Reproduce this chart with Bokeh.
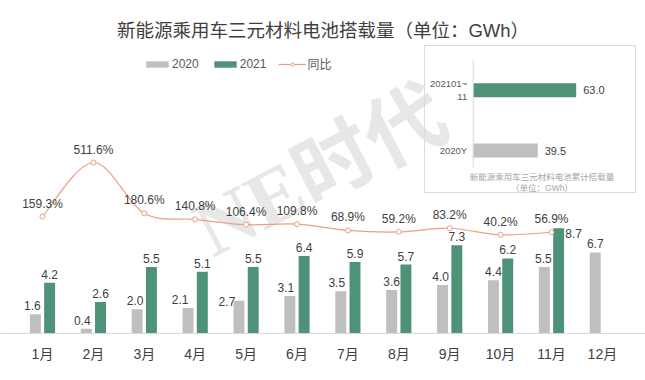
from bokeh.plotting import figure
from bokeh.models import (Range1d, ColumnDataSource, Legend, LegendItem,
                          Title, FixedTicker)
from bokeh.embed import file_html
from bokeh.resources import INLINE
from bokeh.core.properties import value

# ---------------- data ----------------
months = ["1月", "2月", "3月", "4月", "5月", "6月", "7月", "8月", "9月", "10月", "11月", "12月"]
sales_2020 = [1.6, 0.4, 2.0, 2.1, 2.7, 3.1, 3.5, 3.6, 4.0, 4.4, 5.5, 6.7]
sales_2021 = [4.2, 2.6, 5.5, 5.1, 5.5, 6.4, 5.9, 5.7, 7.3, 6.2, 8.7]
yoy_pct = [159.3, 511.6, 180.6, 140.8, 106.4, 109.8, 68.9, 59.2, 83.2, 40.2, 56.9]
inset_labels = ["2020Y", "202101~\n11"]
inset_values = [39.5, 63.0]

# ---------------- style ----------------
FONT = "Liberation Sans, Noto Sans CJK SC"
GRAY = "#BFBFBF"
GREEN = "#4E9277"
LINE = "#E9A083"
TXT = "#404040"
LIGHT = "#D9D9D9"
BAR_OFF = 0.14
BAR_W = 0.215

# label nudges (screen px) to mimic the reference label placement
nudge_2020_dx = [-3, -4, -2, -8, -12, -4, -4, 0, -2, 0, -1, 0]
nudge_2020_dy = [0, 0, 0, 0, 9, 0, 0, 0, 0, 0, 0, 0]
nudge_2021_dx = [0, 0, 0, 0, 0, 0, 0, 0, 0, 0, 15]
nudge_2021_dy = [0, 0, 0, 0, 0, 0, 0, 0, 0, 0, 14]

W, H = 645, 380
p = figure(width=W, height=H,
           x_range=Range1d(-0.325, 12.347),
           y_range=Range1d(0, 24.13),
           y_axis_location=None,
           output_backend="svg", toolbar_location=None,
           min_border_left=0, min_border_right=0,
           min_border_top=41, min_border_bottom=47)
p.extra_y_ranges = {"pct": Range1d(-603, 1300.5), "iy": Range1d(-3.035, 1.808)}
p.extra_x_ranges = {"ix": Range1d(-289.1, 105.4)}
p.outline_line_color = None
p.grid.visible = False
p.background_fill_color = "white"
p.border_fill_color = "white"

p.title = Title(text="新能源乘用车三元材料电池搭载量（单位：GWh）", align="center",
                text_font_size="18.5px", text_font=FONT, text_color=TXT,
                text_font_style="normal", standoff=2)

# watermark
p.text(x=[5.96], y=[13.4], text=["NE时代"], angle=0.48,
       text_font=value("Liberation Serif, Noto Sans CJK SC"), text_font_style="bold",
       text_font_size="80px", text_color="#E7E7E7", text_align="center",
       text_baseline="middle", level="underlay")

# ---------------- bars ----------------
centers = [i + 0.5 for i in range(len(months))]
src20 = ColumnDataSource(dict(x=[c - BAR_OFF for c in centers], value=sales_2020,
                              label=[f"{v:.1f}" for v in sales_2020],
                              dx=nudge_2020_dx, dy=[d - 4 for d in nudge_2020_dy]))
src21 = ColumnDataSource(dict(x=[c + BAR_OFF for c in centers[:len(sales_2021)]],
                              value=sales_2021,
                              label=[f"{v:.1f}" for v in sales_2021],
                              dx=nudge_2021_dx, dy=[d - 4 for d in nudge_2021_dy]))

r20 = p.vbar(x="x", top="value", width=BAR_W, source=src20,
             fill_color=GRAY, line_color=None)
r21 = p.vbar(x="x", top="value", width=BAR_W, source=src21,
             fill_color=GREEN, line_color=None)

for src in (src20, src21):
    p.text(x="x", y="value", text="label", source=src,
           x_offset="dx", y_offset="dy", text_align="center", text_baseline="bottom",
           text_font=value(FONT), text_font_size="12px", text_color=TXT)

# ---------------- YoY smoothed line ----------------
n = len(yoy_pct)
px = centers[:n]
py = yoy_pct
def pt(i):
    i = max(0, min(n - 1, i))
    return px[i], py[i]
bz = dict(x0=[], y0=[], x1=[], y1=[], cx0=[], cy0=[], cx1=[], cy1=[])
for i in range(n - 1):
    xa, ya = pt(i - 1); xb, yb = pt(i); xc, yc = pt(i + 1); xd, yd = pt(i + 2)
    bz["x0"].append(xb); bz["y0"].append(yb)
    bz["x1"].append(xc); bz["y1"].append(yc)
    bz["cx0"].append(xb + (xc - xa) / 6); bz["cy0"].append(yb + (yc - ya) / 6)
    bz["cx1"].append(xc - (xd - xb) / 6); bz["cy1"].append(yc - (yd - yb) / 6)
rline = p.bezier(source=ColumnDataSource(bz), x0="x0", y0="y0", x1="x1", y1="y1",
                 cx0="cx0", cy0="cy0", cx1="cx1", cy1="cy1",
                 line_color=LINE, line_width=1.2, y_range_name="pct")
srcy = ColumnDataSource(dict(x=px, y=py, label=[f"{v:.1f}%" for v in py]))
rpts = p.scatter(x="x", y="y", source=srcy, marker="circle", size=5,
                 fill_color="white", line_color=LINE, line_width=1, y_range_name="pct")
p.text(x="x", y="y", text="label", source=srcy, y_offset=-6, text_align="center",
       text_baseline="bottom", text_font=value(FONT), text_font_size="12px",
       text_color=TXT, y_range_name="pct")

# ---------------- x axis ----------------
ax = p.xaxis[0]
ax.ticker = FixedTicker(ticks=centers)
ax.major_label_overrides = {c: m for c, m in zip(centers, months)}
ax.axis_line_color = LIGHT
ax.axis_line_width = 1
ax.major_tick_line_color = None
ax.minor_tick_line_color = None
ax.major_label_text_font = FONT
ax.major_label_text_font_size = "14px"
ax.major_label_text_color = TXT
ax.major_label_standoff = 6

# ---------------- legend ----------------
legend = Legend(items=[LegendItem(label="2020", renderers=[r20]),
                       LegendItem(label="2021", renderers=[r21]),
                       LegendItem(label="同比", renderers=[rline, rpts])],
                orientation="horizontal", location=(143, 261),
                glyph_width=28, glyph_height=8, label_height=8,
                label_standoff=1, spacing=12, padding=0, margin=0,
                label_text_font=FONT, label_text_font_size="12px",
                label_text_color="#595959", border_line_color=None,
                background_fill_alpha=0)
p.add_layout(legend)

# ---------------- inset: cumulative ----------------
p.quad(left=[-29.8], right=[99.3], bottom=[-0.697], top=[1.741], fill_alpha=0,
       line_color=LIGHT, line_width=1, x_range_name="ix", y_range_name="iy")
idx = list(range(len(inset_values)))
p.hbar(y=idx, left=0, right=inset_values, height=0.232, fill_color=[GRAY, GREEN],
       line_color=None, x_range_name="ix", y_range_name="iy")
p.segment(x0=[0], y0=[-0.28], x1=[0], y1=[len(idx) - 0.5], line_color=LIGHT,
          line_width=1, x_range_name="ix", y_range_name="iy")
p.text(x=inset_values, y=idx, text=[f"{v:.1f}" for v in inset_values], x_offset=7,
       text_align="left", text_baseline="middle", text_font=value(FONT),
       text_font_size="11px", text_color=TXT, x_range_name="ix", y_range_name="iy")
p.text(x=[0] * len(idx), y=idx, text=inset_labels, x_offset=-6, text_align="right",
       text_baseline="middle", text_font=value(FONT), text_font_size="9.5px",
       text_color="#595959", x_range_name="ix", y_range_name="iy")
p.text(x=[42.1], y=[-0.53], text=["新能源乘用车三元材料电池累计搭载量\n（单位：GWh）"],
       text_align="center", text_baseline="middle", text_font=value(FONT),
       text_font_size="8.5px", text_color="#A6A6A6", text_line_height=1.15,
       x_range_name="ix", y_range_name="iy")

open("out.html", "w").write(file_html(p, INLINE))
